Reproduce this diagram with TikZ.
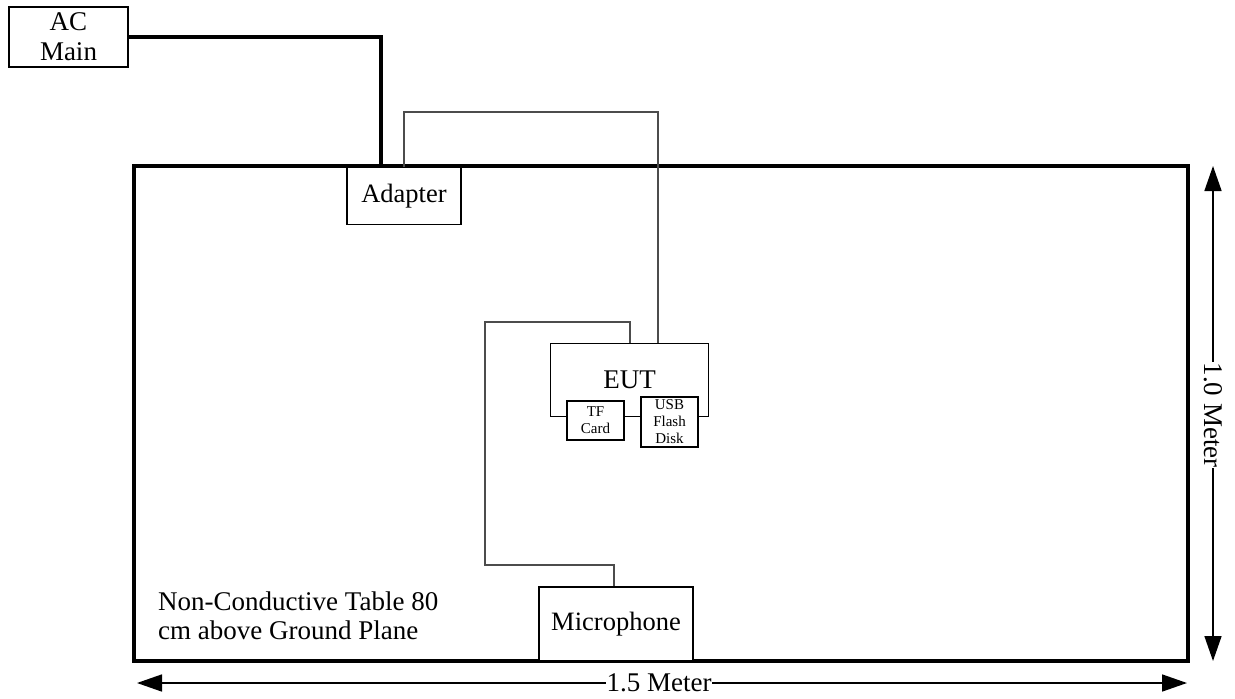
\documentclass[tikz,border=0pt]{standalone}
\usepackage{fontspec}
\setmainfont{Liberation Serif}
\usetikzlibrary{arrows.meta}
\begin{document}
\begin{tikzpicture}[x=1pt,y=-1pt,
  box/.style={draw,line width=1.9pt,fill=white,inner sep=0pt,align=center,
    font=\fontsize{26.5}{30}\selectfont},
  smallbox/.style={draw,line width=1.9pt,fill=white,inner sep=0pt,align=center,
    font=\fontsize{15}{17}\selectfont},
  thincable/.style={draw=black!70,line width=1.3pt},
  powercable/.style={draw=black,line width=3.6pt},
  dimline/.style={line width=1.6pt,{Triangle[length=25pt,width=17pt]}-{Triangle[length=25pt,width=17pt]}},
  dimlabel/.style={fill=white,inner sep=1pt,font=\fontsize{27}{30}\selectfont}]
\useasboundingbox (0,0) rectangle (1235,699);
% table
\node[draw,line width=3.8pt,minimum width=1054pt,minimum height=495pt,inner sep=0pt] (table) at (661,413.5) {};
% dimension lines
\coordinate (hl) at (137,683);
\coordinate (hr) at (1187,683);
\coordinate (vt) at (1213,166);
\coordinate (vb) at (1213,661);
\draw[dimline] (hl) -- (hr);
\node[dimlabel] (hlab) at (659,683) {1.5 Meter};
\draw[dimline] (vt) -- (vb);
\node[dimlabel,rotate=-90] (vlab) at (1213,415) {1.0 Meter};
% boxes
\node[box,minimum width=119pt,minimum height=60pt,font=\fontsize{27}{30}\selectfont] (ac) at (68.5,37) {AC\\Main};
\node[box,minimum width=114pt,minimum height=57pt] (adapter) at (404,196) {Adapter};
\node[box,minimum width=158pt,minimum height=73pt,font=\fontsize{27}{30}\selectfont] (eut) at (629.5,380) {EUT};
\node[smallbox,minimum width=57pt,minimum height=39pt] (tf) at (595.5,420.5) {TF\\Card};
\node[smallbox,minimum width=57pt,minimum height=50pt] (usb) at (669.5,422) {USB\\Flash\\Disk};
\node[box,minimum width=154pt,minimum height=74pt] (mic) at (616,624) {Microphone};
% table text
\node[anchor=north west,inner sep=0pt,align=left,font=\fontsize{27}{29}\selectfont] (tabletext) at (158,592) {Non-Conductive Table 80\\cm above Ground Plane};
% cables
\draw[powercable] (ac.east) -| ([xshift=-23pt]adapter.north);
\coordinate (a1) at (404,112);
\draw[thincable] (adapter.north) -- (a1) -| ([xshift=28.5pt]eut.north);
\coordinate (m1) at (614,565);
\coordinate (m2) at (485,322);
\draw[thincable] ([xshift=-2pt]mic.north) -- (m1) -| (m2) -| ([xshift=0.5pt]eut.north);
\end{tikzpicture}
\end{document}
